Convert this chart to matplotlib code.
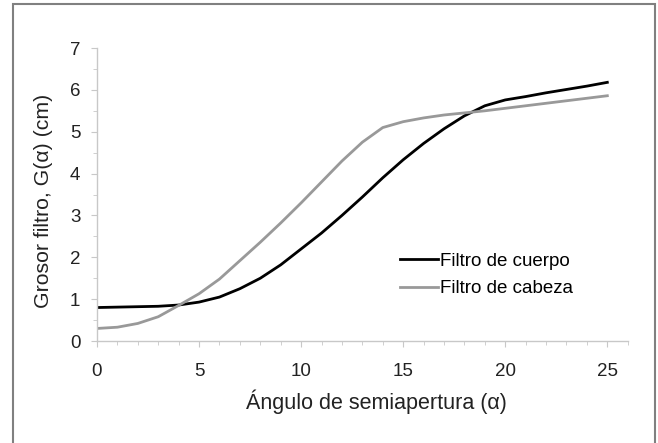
import matplotlib.pyplot as plt
from matplotlib.patches import Rectangle
from matplotlib.ticker import MultipleLocator

plt.rcParams['font.family'] = ['Liberation Sans', 'DejaVu Sans']

# datos
angulo = [0, 1, 2, 3, 4, 5, 6, 7, 8, 9, 10, 11, 12,
          13, 14, 15, 16, 17, 18, 19, 20, 21, 22, 23, 24, 25]
filtro_cuerpo = [0.80, 0.81, 0.82, 0.83, 0.86, 0.93, 1.05, 1.25, 1.50, 1.82, 2.20, 2.58, 3.00,
                 3.44, 3.90, 4.33, 4.72, 5.07, 5.38, 5.62, 5.76, 5.84, 5.93, 6.01, 6.09, 6.18]
filtro_cabeza = [0.30, 0.33, 0.42, 0.58, 0.85, 1.13, 1.48, 1.92, 2.36, 2.82, 3.30, 3.80, 4.30,
                 4.75, 5.10, 5.24, 5.33, 5.40, 5.45, 5.50, 5.56, 5.62, 5.68, 5.74, 5.80, 5.86]
yticks = [0, 1, 2, 3, 4, 5, 6, 7]
xticks = [0, 5, 10, 15, 20, 25]

fig = plt.figure(figsize=(6.58, 4.43), dpi=100)
ax = fig.add_axes([0.1474, 0.2302, 0.8066, 0.6614])

# marco exterior
fig.patches.append(Rectangle((0.0198, -0.05), 0.9756, 1.041, transform=fig.transFigure,
                             fill=False, edgecolor='#808080', linewidth=1.5))

ax.plot(angulo, filtro_cuerpo, color='black', linewidth=2.0, label='Filtro de cuerpo')
ax.plot(angulo, filtro_cabeza, color='#999999', linewidth=2.0, label='Filtro de cabeza')

ax.set_xlim(0, 26)
ax.set_ylim(0, 7)
ax.set_xticks(xticks)
ax.set_yticks(yticks)
ax.xaxis.set_minor_locator(MultipleLocator(1))
ax.yaxis.set_minor_locator(MultipleLocator(0.5))

for s in ['top', 'right']:
    ax.spines[s].set_visible(False)
for s in ['left', 'bottom']:
    ax.spines[s].set_color('#c8c8c8')
    ax.spines[s].set_linewidth(1.0)

ax.tick_params(which='both', direction='out', color='#c8c8c8', labelsize=13.5,
               labelcolor='#222222')
ax.tick_params(which='major', length=4)
ax.tick_params(which='minor', length=3)
ax.tick_params(axis='x', pad=12)
ax.tick_params(axis='y', pad=8)

ax.set_xlabel('Ángulo de semiapertura (α)', fontsize=15.5, color='#222222', labelpad=7)
ax.set_ylabel('Grosor filtro, G(α) (cm)', fontsize=15.3, color='#222222', labelpad=12)
ax.xaxis.label.set_x(0.527)
ax.yaxis.label.set_y(0.478)

ax.legend(loc='center left', bbox_to_anchor=(0.571, 0.225), frameon=False, fontsize=13.5,
          handlelength=2.0, handletextpad=0.15, labelspacing=0.55,
          borderpad=0, borderaxespad=0)

fig.savefig('out.png', dpi=100)
